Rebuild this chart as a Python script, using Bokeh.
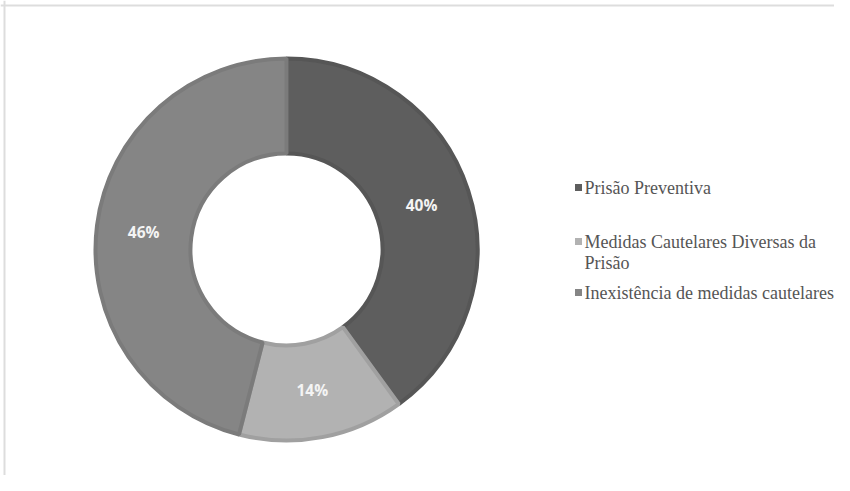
import numpy as np
from bokeh.plotting import figure
from bokeh.models import ColumnDataSource, Span
from bokeh.core.properties import value
from bokeh.embed import file_html
from bokeh.resources import INLINE

categories = ["Prisão Preventiva", "Medidas Cautelares Diversas da Prisão", "Inexistência de medidas cautelares"]
legend_lines = [["Prisão Preventiva"], ["Medidas Cautelares Diversas da", "Prisão"], ["Inexistência de medidas cautelares"]]
shares = [40, 14, 46]
labels = ["40%", "14%", "46%"]
fills = ["#5e5e5e", "#b2b2b2", "#858585"]
borders = ["#565656", "#a0a0a0", "#7b7b7b"]

W, H = 834, 475
p = figure(width=W, height=H, x_range=(0, W), y_range=(0, H), output_backend="svg",
           toolbar_location=None, min_border=0)
p.axis.visible = False
p.grid.visible = False
p.outline_line_color = None
p.background_fill_color = "white"

cx, cy = 286, 226
r_out, r_in = 191, 96

frac = np.array(shares, dtype=float) / sum(shares)
ends = np.pi / 2 - 2 * np.pi * np.cumsum(frac)
starts = np.concatenate([[np.pi / 2], ends[:-1]])
mids = (starts + ends) / 2

src = ColumnDataSource(dict(start=starts, end=ends, fill=fills, border=borders))
p.annular_wedge(x=cx, y=cy, inner_radius=r_in, outer_radius=r_out, start_angle="start", end_angle="end",
                direction="clock", fill_color="fill", line_color="border", line_width=4, source=src)

lr = 143
p.text(x=cx + lr * np.cos(mids) - 1, y=cy + lr * np.sin(mids), text=labels, text_color="#f4f4f4",
       text_font=value("Open Sans"), text_font_style="bold", text_font_size="15.5px",
       text_align="center", text_baseline="middle")

# legend
lx, ly0 = 578, 288
ys = [ly0, ly0 - 54, ly0 - 105]
p.rect(x=[lx] * 3, y=ys, width=7, height=7, fill_color=fills, line_color=None)
tx, ty = [], []
for y, lines in zip(ys, legend_lines):
    for k, t in enumerate(lines):
        tx.append(lx + 6)
        ty.append(y - 21 * k)
txt = [t for lines in legend_lines for t in lines]
p.text(x=tx, y=ty, text=txt, text_color="#555555", text_font=value("Liberation Serif"),
       text_font_size="18px", text_align="left", text_baseline="middle")

# frame border (top and left)
p.add_layout(Span(location=H - 5, dimension="width", line_color="#dddddd", line_width=2))
p.add_layout(Span(location=4, dimension="height", line_color="#dddddd", line_width=2))

open("out.html", "w").write(file_html(p, INLINE))
